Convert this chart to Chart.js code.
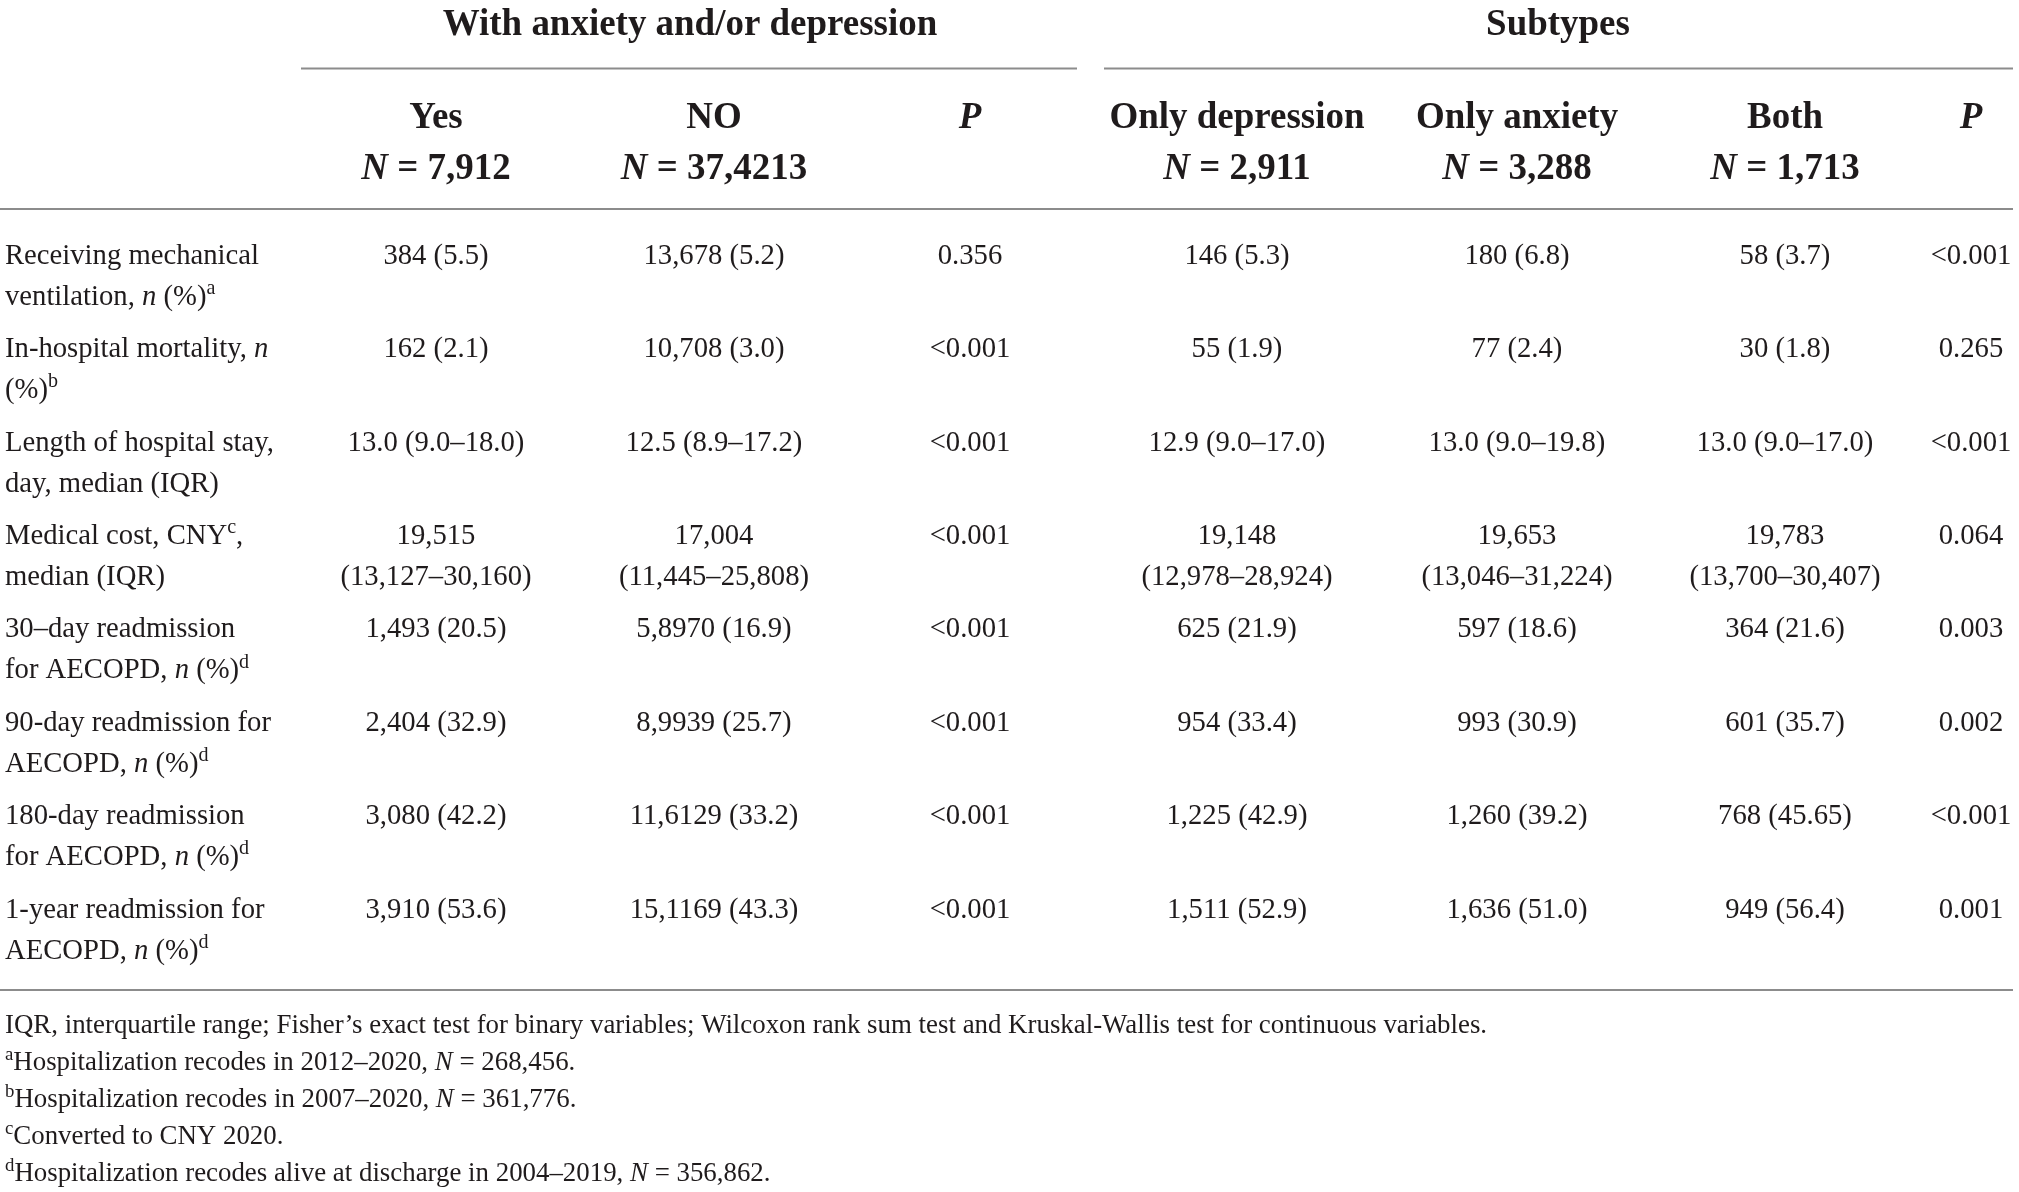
<!DOCTYPE html>
<html>
<head>
<meta charset="utf-8">
<script src="https://cdn.jsdelivr.net/npm/chart.js@4.4.1/dist/chart.umd.min.js"></script>
<style>
  html, body { margin: 0; padding: 0; background: #ffffff; }
  #wrap { position: relative; width: 2019px; height: 1192px; }
</style>
</head>
<body>
<div id="wrap"><canvas id="tbl"></canvas></div>
<script>
// ---- table content ----
// markup: _x_ = italic, ^x = superscript character
const groupTitles = ['With anxiety and/or depression', 'Subtypes'];
const columnHeads = [
  ['Yes', '_N_ = 7,912'],
  ['NO', '_N_ = 37,4213'],
  ['_P_', ''],
  ['Only depression', '_N_ = 2,911'],
  ['Only anxiety', '_N_ = 3,288'],
  ['Both', '_N_ = 1,713'],
  ['_P_', '']
];
const rowLabels = [
  ['Receiving mechanical', 'ventilation, _n_ (%)^a'],
  ['In-hospital mortality, _n_', '(%)^b'],
  ['Length of hospital stay,', 'day, median (IQR)'],
  ['Medical cost, CNY^c,', 'median (IQR)'],
  ['30–day readmission', 'for AECOPD, _n_ (%)^d'],
  ['90-day readmission for', 'AECOPD, _n_ (%)^d'],
  ['180-day readmission', 'for AECOPD, _n_ (%)^d'],
  ['1-year readmission for', 'AECOPD, _n_ (%)^d']
];
const yesValues = ['384 (5.5)', '162 (2.1)', '13.0 (9.0–18.0)', '19,515\n(13,127–30,160)',
  '1,493 (20.5)', '2,404 (32.9)', '3,080 (42.2)', '3,910 (53.6)'];
const noValues = ['13,678 (5.2)', '10,708 (3.0)', '12.5 (8.9–17.2)', '17,004\n(11,445–25,808)',
  '5,8970 (16.9)', '8,9939 (25.7)', '11,6129 (33.2)', '15,1169 (43.3)'];
const pValues = ['0.356', '<0.001', '<0.001', '<0.001', '<0.001', '<0.001', '<0.001', '<0.001'];
const depressionValues = ['146 (5.3)', '55 (1.9)', '12.9 (9.0–17.0)', '19,148\n(12,978–28,924)',
  '625 (21.9)', '954 (33.4)', '1,225 (42.9)', '1,511 (52.9)'];
const anxietyValues = ['180 (6.8)', '77 (2.4)', '13.0 (9.0–19.8)', '19,653\n(13,046–31,224)',
  '597 (18.6)', '993 (30.9)', '1,260 (39.2)', '1,636 (51.0)'];
const bothValues = ['58 (3.7)', '30 (1.8)', '13.0 (9.0–17.0)', '19,783\n(13,700–30,407)',
  '364 (21.6)', '601 (35.7)', '768 (45.65)', '949 (56.4)'];
const pSubValues = ['<0.001', '0.265', '<0.001', '0.064', '0.003', '0.002', '<0.001', '0.001'];
const footnotes = [
  'IQR, interquartile range; Fisher’s exact test for binary variables; Wilcoxon rank sum test and Kruskal-Wallis test for continuous variables.',
  '^aHospitalization recodes in 2012–2020, _N_ = 268,456.',
  '^bHospitalization recodes in 2007–2020, _N_ = 361,776.',
  '^cConverted to CNY 2020.',
  '^dHospitalization recodes alive at discharge in 2004–2019, _N_ = 356,862.'
];

const valueColumns = [yesValues, noValues, pValues, depressionValues, anxietyValues, bothValues, pSubValues];

// ---- layout (x in scale units = canvas px) ----
const colX = [436, 714, 970, 1237, 1517, 1785, 1971];
const labelX = 5;
const groupSpans = [[301, 1077], [1104, 2013]];
const groupCenters = [690, 1558];

const FAM = "'Liberation Serif', 'DejaVu Serif', serif";
const INK = '#1f1b1c';
const RULE = '#8c8c8c';

// pick font sizes so text widths match the reference
const measureCtx = document.createElement('canvas').getContext('2d');
function fitSize(text, weight, target) {
  measureCtx.font = weight + ' 100px ' + FAM;
  return 100 * target / measureCtx.measureText(text).width;
}
const bodySize = fitSize('Receiving mechanical', 'normal', 254);
const headSize = fitSize('Only depression', 'bold', 255);
const noteSize = fitSize('IQR, interquartile range; Fisher’s exact test for binary variables; Wilcoxon rank sum test and Kruskal-Wallis test for continuous variables.', 'normal', 1482);

function parseRich(str) {
  const runs = [];
  let italic = false;
  for (let i = 0; i < str.length; i++) {
    const ch = str[i];
    if (ch === '_') { italic = !italic; continue; }
    if (ch === '^') { runs.push({ t: str[i + 1], italic: false, sup: true }); i++; continue; }
    const last = runs[runs.length - 1];
    if (last && !last.sup && last.italic === italic) last.t += ch;
    else runs.push({ t: ch, italic: italic, sup: false });
  }
  return runs;
}

function runFont(run, size, bold) {
  const s = run.sup ? size * 0.7 : size;
  return (run.italic ? 'italic ' : '') + (bold ? 'bold ' : '') + s.toFixed(2) + 'px ' + FAM;
}

function drawRich(ctx, str, x, y, align, size, bold) {
  const runs = parseRich(str);
  let total = 0;
  runs.forEach(r => { ctx.font = runFont(r, size, bold); r.w = ctx.measureText(r.t).width; total += r.w; });
  let cx = align === 'center' ? x - total / 2 : x;
  ctx.textAlign = 'left';
  ctx.textBaseline = 'alphabetic';
  runs.forEach(r => {
    ctx.font = runFont(r, size, bold);
    ctx.fillText(r.t, cx, r.sup ? y - size * 0.38 : y);
    cx += r.w;
  });
}

function hRule(ctx, x1, x2, y) {
  ctx.beginPath();
  ctx.moveTo(x1, y);
  ctx.lineTo(x2, y);
  ctx.stroke();
}

const tablePlugin = {
  id: 'tableText',
  afterDatasetsDraw(chart) {
    const ctx = chart.ctx;
    const xs = chart.scales.x;
    const area = chart.chartArea;
    const base = 0.34; // baseline offset from line centre, in em
    ctx.save();
    ctx.fillStyle = INK;
    ctx.strokeStyle = RULE;
    ctx.lineWidth = 2;

    // group titles + rules
    groupTitles.forEach((g, i) => {
      drawRich(ctx, g, xs.getPixelForValue(groupCenters[i]), 22 + headSize * base, 'center', headSize, true);
      hRule(ctx, xs.getPixelForValue(groupSpans[i][0]), xs.getPixelForValue(groupSpans[i][1]), 68.5);
    });

    // column heads
    columnHeads.forEach((h, c) => {
      const x = xs.getPixelForValue(colX[c]);
      drawRich(ctx, h[0], x, area.top - 113 + headSize * base, 'center', headSize, true);
      if (h[1]) drawRich(ctx, h[1], x, area.top - 62 + headSize * base, 'center', headSize, true);
    });
    hRule(ctx, xs.getPixelForValue(0), xs.getPixelForValue(2013), area.top - 19);

    // body cells from dataset points
    chart.data.datasets.forEach((ds, di) => {
      const meta = chart.getDatasetMeta(di);
      meta.data.forEach((pt, ri) => {
        const lines = ds.cells[ri];
        const align = ds.align;
        lines.forEach((ln, li) => {
          const y = pt.y + (li === 0 ? -20.5 : 20.5) + bodySize * base;
          drawRich(ctx, ln, pt.x, y, align, bodySize, false);
        });
      });
    });
    hRule(ctx, xs.getPixelForValue(0), xs.getPixelForValue(2013), area.bottom + 15);

    // footnotes
    footnotes.forEach((f, i) => {
      drawRich(ctx, f, xs.getPixelForValue(labelX), area.bottom + 49 + i * 37 + noteSize * base, 'left', noteSize, false);
    });
    ctx.restore();
  }
};

const rowIdx = rowLabels.map((_, i) => i);
const datasets = [{
  label: 'labels',
  align: 'left',
  cells: rowLabels,
  data: rowIdx.map(i => ({ x: labelX, y: i }))
}].concat(valueColumns.map((vals, c) => ({
  label: 'col' + c,
  align: 'center',
  cells: vals.map(v => v.split('\n')),
  data: rowIdx.map(i => ({ x: colX[c], y: i }))
})));

new Chart(document.getElementById('tbl'), {
  type: 'scatter',
  data: { datasets: datasets },
  options: {
    responsive: true,
    maintainAspectRatio: false,
    animation: false,
    events: [],
    layout: { padding: { top: 228, bottom: 217, left: 0, right: 0 } },
    elements: { point: { radius: 0, hoverRadius: 0 } },
    plugins: { legend: { display: false }, tooltip: { enabled: false } },
    scales: {
      x: { type: 'linear', min: 0, max: 2019, display: false },
      y: { type: 'linear', min: -0.5, max: 7.5, reverse: true, display: false }
    }
  },
  plugins: [tablePlugin]
});
</script>
</body>
</html>
